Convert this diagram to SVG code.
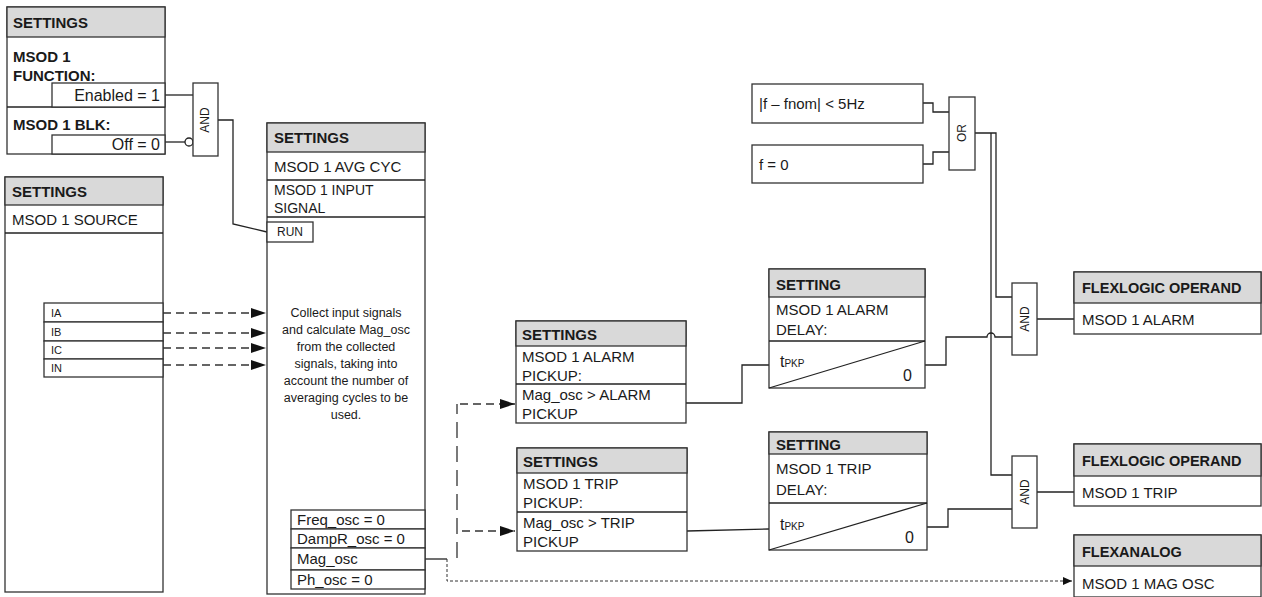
<svg xmlns="http://www.w3.org/2000/svg" width="1262" height="597" viewBox="0 0 1262 597">
<style>
.bx{fill:#fff;stroke:#333;stroke-width:1.3}
.hd{fill:#d9d9d9;stroke:#333;stroke-width:1.3}
.ln{fill:none;stroke:#222;stroke-width:1.3}
.dl{fill:none;stroke:#333;stroke-width:1.3;stroke-dasharray:8,5}
.dv{fill:none;stroke:#333;stroke-width:1.3;stroke-dasharray:16,8}
.dt{fill:none;stroke:#333;stroke-width:1;stroke-dasharray:3,2}
text{font-family:"Liberation Sans",Arial,sans-serif;fill:#1a1a1a}
.b{font-weight:bold;font-size:15px}
.t{font-size:15px}
.s{font-size:11px}
.c{font-size:12.5px;text-anchor:middle}
.g{font-size:12px;text-anchor:middle}
</style>
<defs>
<marker id="ar" markerUnits="userSpaceOnUse" markerWidth="16" markerHeight="10" refX="15" refY="5" orient="auto"><path d="M0,0 L15,5 L0,10 Z" fill="#111"/></marker>
<marker id="as" markerUnits="userSpaceOnUse" markerWidth="10" markerHeight="8" refX="9" refY="4" orient="auto"><path d="M0,0 L9,4 L0,8 Z" fill="#111"/></marker>
</defs>

<g id="connectors">
<path class="ln" d="M165,95 H193"/>
<path class="ln" d="M165,142 H185"/>
<circle cx="189" cy="142" r="4" fill="#fff" stroke="#222" stroke-width="1.3"/>
<path class="ln" d="M218,120 H233 V224 L267,232"/>
<path class="dl" d="M163,313 H266" marker-end="url(#ar)"/>
<path class="dl" d="M163,333 H266" marker-end="url(#ar)"/>
<path class="dl" d="M163,348 H266" marker-end="url(#ar)"/>
<path class="dl" d="M163,365 H266" marker-end="url(#ar)"/>
<path class="dv" d="M457,558 V404"/>
<path class="dl" d="M460,404 H515" marker-end="url(#ar)"/>
<path class="dl" d="M462,531 H515" marker-end="url(#ar)"/>
<path class="ln" d="M425,559 H447"/>
<path class="dt" d="M447,559 V581 H1072" marker-end="url(#as)"/>
<path class="ln" d="M686,403 H742 V365 H769"/>
<path class="ln" d="M687,531 L769,529"/>
<path class="ln" d="M925,365 H946 V337 H987 a4,4 0 0 1 8,0 H1012"/>
<path class="ln" d="M927,527 H948 V509 H1012"/>
<path class="ln" d="M923,103 H933 V112 H949"/>
<path class="ln" d="M923,164 H933 V152 H949"/>
<path class="ln" d="M975,133 H996 V297 H1012"/>
<path class="ln" d="M991,133 V475 H1012"/>
<path class="ln" d="M1037,319 H1074"/>
<path class="ln" d="M1037,492 H1074"/>
</g>

<g id="settings-function">
<rect class="bx" x="7" y="7" width="158" height="147"/>
<rect class="hd" x="7" y="7" width="158" height="30"/>
<line class="ln" x1="7" y1="107" x2="165" y2="107"/>
<rect class="bx" x="52" y="83" width="113" height="24"/>
<rect class="bx" x="52" y="135" width="113" height="19"/>
<text class="b" x="13" y="28">SETTINGS</text>
<text class="b" x="13" y="62">MSOD 1</text>
<text class="b" x="13" y="81">FUNCTION:</text>
<text class="t" x="160" y="101" text-anchor="end" style="font-size:16px">Enabled = 1</text>
<text class="b" x="13" y="130">MSOD 1 BLK:</text>
<text class="t" x="160" y="150" text-anchor="end" style="font-size:16px">Off = 0</text>
</g>

<g id="and-run">
<rect class="bx" x="193" y="83" width="25" height="73"/>
<text class="g" transform="translate(209,120) rotate(-90)">AND</text>
</g>

<g id="settings-source">
<rect class="bx" x="5" y="177" width="158" height="415"/>
<rect class="hd" x="5" y="177" width="158" height="28"/>
<line class="ln" x1="5" y1="233" x2="163" y2="233"/>
<text class="b" x="12" y="197">SETTINGS</text>
<text class="t" x="12" y="225">MSOD 1 SOURCE</text>
<rect class="bx" x="44" y="303" width="119" height="19"/>
<rect class="bx" x="44" y="322" width="119" height="19"/>
<rect class="bx" x="44" y="341" width="119" height="18"/>
<rect class="bx" x="44" y="359" width="119" height="18"/>
<text class="s" x="51" y="317">IA</text>
<text class="s" x="51" y="336">IB</text>
<text class="s" x="51" y="354">IC</text>
<text class="s" x="51" y="372">IN</text>
</g>

<g id="settings-avg">
<rect class="bx" x="267" y="123" width="158" height="471"/>
<rect class="hd" x="267" y="123" width="158" height="29"/>
<line class="ln" x1="267" y1="180" x2="425" y2="180"/>
<line class="ln" x1="267" y1="217" x2="425" y2="217"/>
<text class="b" x="274" y="143">SETTINGS</text>
<text class="t" x="274" y="172">MSOD 1 AVG CYC</text>
<text class="t" x="274" y="195" style="font-size:14px">MSOD 1 INPUT</text>
<text class="t" x="274" y="213" style="font-size:14px">SIGNAL</text>
<rect class="bx" x="267" y="222" width="46" height="20"/>
<text class="s" x="277" y="236" style="font-size:12px">RUN</text>
<text class="c" x="346" y="317">Collect input  signals</text>
<text class="c" x="346" y="334">and calculate Mag_osc</text>
<text class="c" x="346" y="351">from the collected</text>
<text class="c" x="346" y="368">signals, taking into</text>
<text class="c" x="346" y="385">account the number of</text>
<text class="c" x="346" y="402">averaging cycles to be</text>
<text class="c" x="346" y="419">used.</text>
<rect class="bx" x="291" y="510" width="134" height="19"/>
<rect class="bx" x="291" y="529" width="134" height="19"/>
<rect class="bx" x="291" y="548" width="134" height="22"/>
<rect class="bx" x="291" y="570" width="134" height="19"/>
<text class="t" x="297" y="525">Freq_osc = 0</text>
<text class="t" x="297" y="544">DampR_osc = 0</text>
<text class="t" x="297" y="564">Mag_osc</text>
<text class="t" x="297" y="585">Ph_osc = 0</text>
</g>

<g id="alarm-pickup">
<rect class="bx" x="516" y="321" width="170" height="102"/>
<rect class="hd" x="516" y="321" width="170" height="25"/>
<line class="ln" x1="516" y1="384" x2="686" y2="384"/>
<text class="b" x="522" y="340">SETTINGS</text>
<text class="t" x="522" y="362">MSOD 1 ALARM</text>
<text class="t" x="522" y="381">PICKUP:</text>
<text class="t" x="522" y="400">Mag_osc &gt; ALARM</text>
<text class="t" x="522" y="419">PICKUP</text>
</g>

<g id="trip-pickup">
<rect class="bx" x="517" y="448" width="170" height="103"/>
<rect class="hd" x="517" y="448" width="170" height="25"/>
<line class="ln" x1="517" y1="512" x2="687" y2="512"/>
<text class="b" x="523" y="467">SETTINGS</text>
<text class="t" x="523" y="489">MSOD 1 TRIP</text>
<text class="t" x="523" y="508">PICKUP:</text>
<text class="t" x="523" y="528">Mag_osc &gt; TRIP</text>
<text class="t" x="523" y="547">PICKUP</text>
</g>

<g id="alarm-delay">
<rect class="bx" x="769" y="269" width="156" height="119"/>
<rect class="hd" x="769" y="269" width="156" height="28"/>
<line class="ln" x1="769" y1="341" x2="925" y2="341"/>
<line class="ln" x1="769" y1="388" x2="925" y2="341"/>
<text class="b" x="776" y="290">SETTING</text>
<text class="t" x="776" y="315">MSOD 1 ALARM</text>
<text class="t" x="776" y="335">DELAY:</text>
<text class="t" x="780" y="367" style="font-size:16px">t<tspan style="font-size:10px">PKP</tspan></text>
<text class="t" x="903" y="381" style="font-size:16px">0</text>
</g>

<g id="trip-delay">
<rect class="bx" x="769" y="432" width="158" height="118"/>
<rect class="hd" x="769" y="432" width="158" height="22"/>
<line class="ln" x1="769" y1="503" x2="927" y2="503"/>
<line class="ln" x1="769" y1="550" x2="927" y2="503"/>
<text class="b" x="776" y="450">SETTING</text>
<text class="t" x="776" y="474">MSOD 1 TRIP</text>
<text class="t" x="776" y="495">DELAY:</text>
<text class="t" x="780" y="530" style="font-size:16px">t<tspan style="font-size:10px">PKP</tspan></text>
<text class="t" x="905" y="543" style="font-size:16px">0</text>
</g>

<g id="freq-cond">
<rect class="bx" x="752" y="84" width="171" height="39"/>
<text class="t" x="759" y="109">|f – fnom| &lt; 5Hz</text>
</g>
<g id="freq-zero">
<rect class="bx" x="752" y="145" width="171" height="38"/>
<text class="t" x="759" y="170">f = 0</text>
</g>
<g id="or-gate">
<rect class="bx" x="949" y="97" width="26" height="73"/>
<text class="g" transform="translate(966,133) rotate(-90)">OR</text>
</g>

<g id="and-alarm">
<rect class="bx" x="1012" y="283" width="25" height="72"/>
<text class="g" transform="translate(1029,319) rotate(-90)">AND</text>
</g>
<g id="and-trip">
<rect class="bx" x="1012" y="456" width="25" height="72"/>
<text class="g" transform="translate(1029,492) rotate(-90)">AND</text>
</g>

<g id="out-alarm">
<rect class="bx" x="1074" y="272" width="187" height="62"/>
<rect class="hd" x="1074" y="272" width="187" height="31"/>
<text class="b" x="1082" y="293" style="font-size:14.5px">FLEXLOGIC OPERAND</text>
<text class="t" x="1082" y="325">MSOD 1 ALARM</text>
</g>
<g id="out-trip">
<rect class="bx" x="1074" y="444" width="187" height="62"/>
<rect class="hd" x="1074" y="444" width="187" height="32"/>
<text class="b" x="1082" y="466" style="font-size:14.5px">FLEXLOGIC OPERAND</text>
<text class="t" x="1082" y="498">MSOD 1 TRIP</text>
</g>
<g id="out-analog">
<rect class="bx" x="1074" y="535" width="187" height="62"/>
<rect class="hd" x="1074" y="535" width="187" height="31"/>
<text class="b" x="1082" y="557" style="font-size:14.5px">FLEXANALOG</text>
<text class="t" x="1082" y="589">MSOD 1 MAG OSC</text>
</g>
</svg>
